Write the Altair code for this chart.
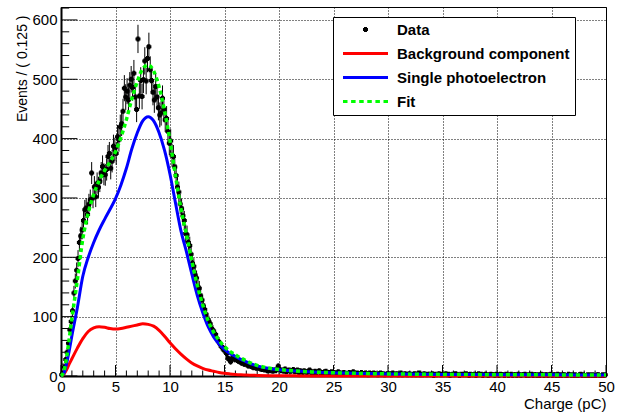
import altair as alt
import numpy as np
import pandas as pd

# ---------------- data ----------------
BIN_WIDTH = 0.125  # pC per bin (from the axis title)

# counts per bin, one row of 8 bins per 1 pC, from 0 to 50 pC
counts_rows = [
    [2, 5, 15, 28, 40, 55, 78, 92],            # 0-1
    [110, 140, 160, 178, 198, 225, 236, 246],  # 1-2
    [262, 280, 283, 272, 290, 297, 342, 300],  # 2-3
    [319, 302, 325, 318, 328, 342, 353, 340],  # 3-4
    [339, 348, 370, 375, 350, 362, 387, 382],  # 4-5
    [375, 403, 398, 420, 425, 446, 485, 470],  # 5-6
    [480, 465, 490, 500, 486, 510, 470, 449],  # 6-7
    [568, 472, 498, 471, 499, 531, 497, 535],  # 7-8
    [555, 516, 498, 478, 465, 488, 470, 452],  # 8-9
    [440, 443, 468, 449, 432, 434, 412, 392],  # 9-10
    [396, 372, 370, 352, 338, 318, 310, 290],  # 10-11
    [282, 270, 262, 240, 238, 225, 220, 205],  # 11-12
    [190, 185, 170, 165, 150, 148, 135, 128],  # 12-13
    [118, 112, 104, 95, 92, 88, 80, 77],       # 13-14
    [72, 70, 63, 58, 55, 50, 48, 44],          # 14-15
    [45, 38, 30, 28, 24, 30, 32, 28],          # 15-16
    [28, 26, 25, 24, 22, 23, 20, 21],          # 16-17
    [19, 17, 18, 16, 15, 14, 16, 13],          # 17-18
    [14, 13, 12, 11, 12, 10, 11, 9],           # 18-19
    [10, 9, 11, 8, 10, 9, 12, 17],             # 19-20
    [11, 9, 10, 8, 12, 7, 9, 10],              # 20-21
    [8, 9, 11, 7, 8, 10, 6, 9],                # 21-22
    [8, 6, 9, 7, 5, 8, 10, 6],                 # 22-23
    [7, 5, 8, 6, 7, 9, 5, 6],                  # 23-24
    [4, 7, 8, 5, 6, 4, 7, 5],                  # 24-25
    [6, 4, 5, 7, 3, 5, 4, 6],                  # 25-26
    [5, 3, 4, 6, 5, 4, 7, 3],                  # 26-27
    [4, 5, 3, 4, 6, 4, 3, 5],                  # 27-28
    [4, 2, 5, 4, 3, 5, 4, 3],                  # 28-29
    [2, 4, 5, 3, 4, 2, 3, 4],                  # 29-30
    [3, 4, 2, 5, 3, 3, 4, 2],                  # 30-31
    [3, 5, 2, 3, 4, 3, 2, 4],                  # 31-32
    [3, 2, 3, 4, 2, 3, 5, 2],                  # 32-33
    [3, 2, 4, 3, 2, 3, 3, 2],                  # 33-34
    [4, 1, 3, 2, 3, 4, 2, 3],                  # 34-35
    [2, 3, 4, 2, 3, 1, 2, 3],                  # 35-36
    [2, 4, 3, 2, 1, 3, 2, 3],                  # 36-37
    [2, 4, 2, 1, 3, 2, 2, 3],                  # 37-38
    [1, 2, 4, 2, 3, 1, 2, 3],                  # 38-39
    [2, 1, 2, 3, 2, 2, 1, 3],                  # 39-40
    [2, 1, 3, 2, 2, 1, 3, 2],                  # 40-41
    [1, 2, 3, 1, 2, 2, 1, 3],                  # 41-42
    [2, 1, 2, 2, 3, 1, 2, 1],                  # 42-43
    [2, 3, 1, 2, 2, 1, 2, 1],                  # 43-44
    [3, 2, 1, 2, 2, 1, 2, 3],                  # 44-45
    [1, 2, 2, 1, 3, 1, 2, 1],                  # 45-46
    [2, 2, 1, 1, 3, 2, 1, 2],                  # 46-47
    [1, 2, 1, 1, 2, 3, 1, 2],                  # 47-48
    [1, 1, 2, 1, 2, 1, 2, 1],                  # 48-49
    [1, 2, 2, 1, 1, 2, 1, 2],                  # 49-50
]

# fitted curves, sampled along the charge axis
curve_x = [0, 0.25, 0.5, 0.75, 1, 1.5, 2, 2.5, 3, 3.5, 4, 4.5, 5, 5.5, 6, 6.5,
           7, 7.5, 8, 8.5, 9, 9.5, 10, 10.5, 11, 11.5, 12, 12.5, 13, 13.5, 14,
           14.5, 15, 15.5, 16, 16.5, 17, 17.5, 18, 19, 20, 21, 22, 23, 24, 25,
           26, 28, 30, 35, 40, 45, 50]
background = [0, 3, 10, 20, 29, 47, 63, 75, 81, 83, 82, 80, 79, 80, 82, 84,
              86, 88, 87, 84, 77, 67, 56, 46, 37, 29, 22, 17, 13, 10, 8,
              6, 4.5, 3.5, 2.7, 2.1, 1.6, 1.3, 1.0, 0.6, 0.4, 0.3, 0.2, 0.1, 0.1, 0,
              0, 0, 0, 0, 0, 0, 0]
single_pe = [0, 4, 20, 42, 68, 115, 168, 200, 225, 246, 264, 281, 299, 322, 350, 383,
             410, 430, 437, 430, 410, 380, 340, 292, 245, 210, 172, 136, 107, 83, 66,
             54, 45, 38, 33, 28, 24, 20, 17, 13, 10.5, 9, 7.8, 6.8, 6, 5.4,
             4.9, 4.1, 3.5, 2.7, 2.2, 1.9, 1.6]
fit_total = [0, 7, 30, 62, 97, 162, 231, 275, 306, 329, 346, 361, 378, 402, 432, 467,
             496, 518, 524, 514, 487, 447, 396, 338, 282, 239, 194, 153, 120, 93, 74,
             60, 49.5, 41.5, 35.7, 30.1, 25.6, 21.3, 18, 13.6, 10.9, 9.3, 8, 6.9, 6.1, 5.4,
             4.9, 4.1, 3.5, 2.7, 2.2, 1.9, 1.6]

series_names = ["Data", "Background component", "Single photoelectron", "Fit"]
series_colors = ["#000000", "#ff0000", "#0000ff", "#00ff00"]

x_tick_labels = list(range(0, 51, 5))
y_tick_labels = list(range(0, 601, 100))

# ---------------- tables ----------------
counts = np.array([c for row in counts_rows for c in row], dtype=float)
centers = (np.arange(len(counts)) + 0.5) * BIN_WIDTH
errs = np.sqrt(counts)
data_df = pd.DataFrame({"x": centers, "n": counts, "lo": counts - errs,
                        "hi": counts + errs, "series": "Data"})

bkg_df = pd.DataFrame({"x": curve_x, "y": background})
spe_df = pd.DataFrame({"x": curve_x, "y": single_pe})
fit_df = pd.DataFrame({"x": curve_x, "y": fit_total})

x_major_df = pd.DataFrame({"x": x_tick_labels})
x_minor_df = pd.DataFrame({"x": [v for v in range(0, 51) if v % 5]})
y_major_df = pd.DataFrame({"y": y_tick_labels})
y_minor_df = pd.DataFrame({"y": [v for v in range(0, 621, 20) if v % 100]})

# ---------------- styling ----------------
FONT = "Liberation Sans"
PLOT_W, PLOT_H = 545, 369
xs = alt.Scale(domain=[0, 50], nice=False, zero=False)
ys = alt.Scale(domain=[0, 621.8], nice=False, zero=False)

x_axis = alt.Axis(values=x_tick_labels, format="d", title="Charge (pC)",
                  grid=True, gridColor="black", gridDash=[1, 2], gridWidth=1,
                  gridOpacity=1, ticks=False, tickSize=0,
                  labelFont=FONT, labelFontSize=15, labelColor="black",
                  labelPadding=3, labelFlush=False, labelOverlap=False,
                  domainColor="black", domainWidth=2,
                  titleFont=FONT, titleFontSize=15, titleFontWeight="normal",
                  titleColor="black", titleAnchor="end", titleAlign="right",
                  titleBaseline="alphabetic", titleX=PLOT_W, titleY=32)
y_axis = alt.Axis(values=y_tick_labels, format="d", title="Events / ( 0.125 )",
                  grid=True, gridColor="black", gridDash=[1, 2], gridWidth=1,
                  gridOpacity=1, ticks=False, tickSize=0,
                  labelFont=FONT, labelFontSize=15, labelColor="black",
                  labelPadding=4, labelFlush=False, labelOverlap=False,
                  domainColor="black", domainWidth=2,
                  titleFont=FONT, titleFontSize=14, titleFontWeight="normal",
                  titleColor="black", titleAngle=270, titleAlign="right",
                  titleBaseline="middle", titleX=-38.5, titleY=8)

DOT = "M-0.5,0L0.5,0M0,-0.5L0,0.5"
LINE = "M-4.5,0L4.5,0"
DOTTED = "M-4.5,0L-3.6,0M-2.88,0L-1.98,0M-1.26,0L-0.36,0M0.36,0L1.26,0M1.98,0L2.88,0M3.6,0L4.5,0"

legend = alt.Legend(title=None, orient="none", legendX=272, legendY=10,
                    direction="vertical", fillColor="white", strokeColor="black",
                    padding=5, cornerRadius=0, rowPadding=8,
                    labelFont=FONT, labelFontSize=15, labelFontWeight="bold",
                    labelColor="black", labelLimit=400, labelOffset=24,
                    labelExpr="datum.label + '     '",
                    symbolSize=100, symbolStrokeWidth=3, symbolOffset=20,
                    symbolOpacity=1)

X = lambda f: alt.X(f, scale=xs, axis=x_axis)
Y = lambda f: alt.Y(f, scale=ys, axis=y_axis)

# ---------------- layers ----------------
errbars = alt.Chart(data_df).mark_rule(color="black", strokeWidth=1).encode(
    x=X("x:Q"), y=Y("lo:Q"), y2="hi:Q",
)

points = alt.Chart(data_df).mark_point(filled=False, size=100, strokeWidth=3,
                                       opacity=1).encode(
    x=X("x:Q"), y=Y("n:Q"),
    color=alt.Color("series:N", scale=alt.Scale(domain=series_names,
                                                range=series_colors),
                    legend=legend),
    shape=alt.Shape("series:N", scale=alt.Scale(domain=series_names,
                                                range=[DOT, LINE, LINE, DOTTED]),
                    legend=legend),
)

def curve(df, color, **kw):
    return alt.Chart(df).mark_line(color=color, interpolate="monotone",
                                   **kw).encode(x=X("x:Q"), y=Y("y:Q"))

bkg_line = curve(bkg_df, "#ff0000", strokeWidth=3)
spe_line = curve(spe_df, "#0000ff", strokeWidth=3)
fit_line = curve(fit_df, "#00ff00", strokeWidth=3.5, strokeDash=[4, 3])

def xticks(df, length):
    return alt.Chart(df).mark_rule(color="black", strokeWidth=1).encode(
        x=X("x:Q"), y=alt.value(PLOT_H), y2=alt.value(PLOT_H - length))

def yticks(df, length):
    return alt.Chart(df).mark_rule(color="black", strokeWidth=1).encode(
        y=Y("y:Q"), x=alt.value(0), x2=alt.value(length))

chart = alt.layer(
    errbars,
    xticks(x_major_df, 11), xticks(x_minor_df, 5.5),
    yticks(y_major_df, 16.4), yticks(y_minor_df, 8.2),
    points, bkg_line, spe_line, fit_line,
).properties(
    width=PLOT_W, height=PLOT_H,
    padding={"left": 61, "top": 7, "right": 19, "bottom": 36},
    autosize=alt.AutoSizeParams(type="none"),
    background="white",
).configure_view(stroke="black", strokeWidth=1)

chart.save("out.html", embed_options={"renderer": "svg", "actions": False})
